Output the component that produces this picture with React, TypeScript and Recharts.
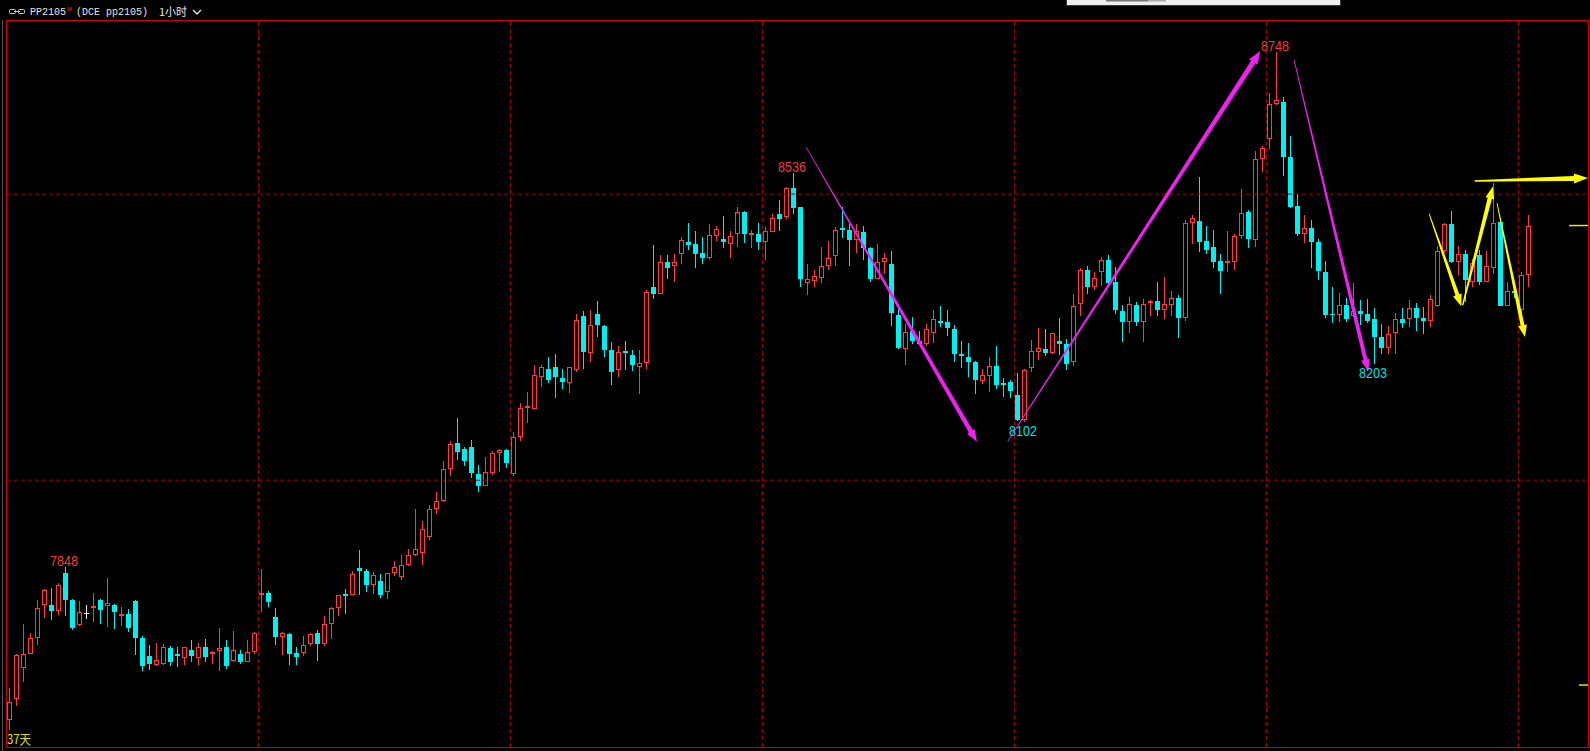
import React from 'react';
import {
  ComposedChart,
  Bar,
  XAxis,
  YAxis,
  ReferenceLine,
  ReferenceDot,
} from 'recharts';

// hourly candles, PP2105
const opens = [
  7581, 7618, 7672, 7697, 7724, 7781, 7781, 7771, 7838, 7791,
  7747, 7768, 7777, 7791, 7780, 7782, 7762, 7767, 7789, 7725,
  7692, 7677, 7679, 7706, 7697, 7690, 7704, 7690, 7708, 7697,
  7702, 7708, 7684, 7697, 7683, 7700, 7800, 7803, 7761, 7726,
  7731, 7698, 7698, 7713, 7733, 7713, 7749, 7777, 7801, 7800,
  7846, 7841, 7816, 7823, 7805, 7837, 7830, 7851, 7870, 7872,
  7900, 7950, 7963, 8020, 8065, 8054, 8058, 8011, 7990, 8013,
  8047, 8053, 8011, 8075, 8127, 8125, 8180, 8195, 8198, 8179,
  8169, 8193, 8287, 8222, 8290, 8270, 8228, 8193, 8225, 8218,
  8198, 8204, 8337, 8326, 8382, 8374, 8396, 8416, 8412, 8397,
  8389, 8426, 8422, 8413, 8430, 8468, 8429, 8431, 8417, 8434,
  8466, 8460, 8511, 8477, 8344, 8348, 8354, 8374, 8392, 8440,
  8438, 8420, 8433, 8405, 8352, 8381, 8377, 8289, 8229, 8261,
  8243, 8238, 8257, 8279, 8276, 8264, 8221, 8216, 8207, 8174,
  8182, 8200, 8169, 8171, 8148, 8106, 8196, 8224, 8230, 8222,
  8244, 8238, 8206, 8308, 8367, 8337, 8363, 8384, 8346, 8296,
  8276, 8306, 8276, 8309, 8313, 8298, 8306, 8318, 8283, 8450,
  8453, 8418, 8407, 8383, 8379, 8381, 8427, 8469, 8419, 8561,
  8596, 8657, 8661, 8565, 8480, 8431, 8441, 8417, 8364, 8290,
  8289, 8307, 8287, 8296, 8290, 8281, 8251, 8231, 8257, 8282,
  8282, 8301, 8283, 8278, 8305, 8401, 8448, 8382, 8396, 8347,
  8393, 8347, 8371, 8451, 8305, 8330, 8298, 8358,
];

const highs = [
  7636, 7697, 7748, 7733, 7791, 7810, 7812, 7821, 7848, 7793,
  7789, 7781, 7803, 7792, 7829, 7784, 7779, 7775, 7790, 7727,
  7712, 7716, 7713, 7710, 7708, 7709, 7720, 7716, 7722, 7701,
  7742, 7720, 7736, 7704, 7720, 7734, 7845, 7806, 7777, 7734,
  7733, 7708, 7727, 7733, 7739, 7763, 7778, 7800, 7810, 7841,
  7878, 7844, 7839, 7836, 7838, 7858, 7869, 7879, 7949, 7928,
  7957, 7980, 8034, 8068, 8108, 8058, 8070, 8026, 8040, 8051,
  8054, 8054, 8084, 8134, 8154, 8201, 8202, 8215, 8220, 8195,
  8198, 8290, 8296, 8297, 8313, 8271, 8242, 8235, 8244, 8228,
  8228, 8332, 8411, 8393, 8393, 8395, 8425, 8449, 8435, 8425,
  8447, 8444, 8461, 8436, 8478, 8471, 8438, 8449, 8443, 8466,
  8489, 8512, 8536, 8478, 8377, 8367, 8407, 8418, 8443, 8478,
  8448, 8447, 8445, 8408, 8412, 8397, 8401, 8308, 8273, 8285,
  8261, 8273, 8297, 8304, 8297, 8272, 8243, 8239, 8208, 8195,
  8216, 8235, 8179, 8175, 8188, 8195, 8245, 8266, 8264, 8258,
  8283, 8246, 8325, 8370, 8374, 8363, 8390, 8393, 8372, 8306,
  8320, 8311, 8317, 8315, 8346, 8355, 8331, 8324, 8455, 8463,
  8530, 8445, 8437, 8396, 8436, 8431, 8508, 8473, 8575, 8584,
  8676, 8748, 8669, 8601, 8500, 8463, 8455, 8422, 8383, 8337,
  8327, 8319, 8344, 8315, 8317, 8301, 8273, 8270, 8293, 8301,
  8315, 8309, 8302, 8323, 8409, 8450, 8471, 8410, 8402, 8386,
  8403, 8400, 8520, 8458, 8347, 8337, 8363, 8463,
];

const lows = [
  7564, 7605, 7648, 7696, 7712, 7760, 7755, 7765, 7762, 7739,
  7746, 7758, 7752, 7748, 7744, 7740, 7745, 7734, 7694, 7667,
  7668, 7676, 7677, 7675, 7674, 7677, 7683, 7677, 7682, 7679,
  7667, 7670, 7683, 7679, 7682, 7696, 7770, 7779, 7712, 7695,
  7677, 7677, 7693, 7711, 7684, 7710, 7723, 7762, 7767, 7799,
  7800, 7805, 7801, 7794, 7793, 7832, 7825, 7850, 7868, 7851,
  7896, 7941, 7962, 8007, 8036, 8024, 8003, 7979, 7989, 8009,
  8014, 8021, 8007, 8069, 8100, 8124, 8163, 8169, 8144, 8160,
  8153, 8189, 8194, 8206, 8250, 8215, 8167, 8180, 8193, 8191,
  8151, 8194, 8316, 8325, 8352, 8347, 8378, 8402, 8371, 8378,
  8385, 8418, 8406, 8389, 8408, 8415, 8406, 8402, 8385, 8433,
  8435, 8456, 8465, 8338, 8323, 8337, 8344, 8368, 8374, 8424,
  8375, 8397, 8385, 8347, 8351, 8360, 8269, 8229, 8201, 8238,
  8237, 8234, 8239, 8267, 8252, 8206, 8196, 8180, 8151, 8168,
  8154, 8160, 8146, 8144, 8104, 8102, 8189, 8210, 8217, 8221,
  8218, 8192, 8200, 8287, 8325, 8333, 8339, 8342, 8290, 8241,
  8258, 8269, 8241, 8287, 8287, 8281, 8287, 8249, 8278, 8412,
  8399, 8396, 8371, 8326, 8363, 8368, 8422, 8406, 8408, 8539,
  8578, 8655, 8532, 8475, 8427, 8415, 8370, 8349, 8283, 8274,
  8276, 8276, 8285, 8271, 8275, 8203, 8221, 8220, 8220, 8266,
  8268, 8260, 8256, 8267, 8302, 8397, 8379, 8359, 8311, 8337,
  8341, 8346, 8360, 8304, 8304, 8319, 8285, 8338,
];

const closes = [
  7613, 7695, 7697, 7724, 7777, 7808, 7771, 7817, 7790, 7741,
  7769, 7768, 7780, 7773, 7786, 7769, 7766, 7741, 7725, 7675,
  7678, 7686, 7708, 7683, 7693, 7708, 7693, 7708, 7691, 7700,
  7707, 7675, 7704, 7682, 7700, 7733, 7803, 7787, 7726, 7733,
  7697, 7691, 7712, 7731, 7713, 7749, 7777, 7799, 7798, 7836,
  7842, 7816, 7834, 7800, 7837, 7849, 7851, 7870, 7879, 7915,
  7950, 7963, 8020, 8063, 8050, 8033, 8012, 7990, 8014, 8047,
  8053, 8030, 8075, 8127, 8129, 8183, 8197, 8175, 8180, 8172,
  8197, 8280, 8224, 8271, 8271, 8228, 8189, 8224, 8222, 8201,
  8205, 8329, 8326, 8381, 8371, 8381, 8419, 8411, 8396, 8389,
  8428, 8439, 8417, 8426, 8468, 8430, 8432, 8417, 8436, 8458,
  8456, 8511, 8476, 8352, 8351, 8356, 8375, 8389, 8437, 8437,
  8420, 8436, 8405, 8352, 8381, 8389, 8292, 8231, 8259, 8243,
  8238, 8264, 8282, 8275, 8266, 8220, 8217, 8206, 8175, 8184,
  8200, 8166, 8166, 8156, 8106, 8193, 8226, 8231, 8222, 8257,
  8238, 8203, 8304, 8367, 8337, 8353, 8384, 8345, 8297, 8276,
  8308, 8276, 8308, 8313, 8297, 8308, 8318, 8283, 8450, 8459,
  8416, 8403, 8382, 8366, 8383, 8427, 8467, 8422, 8561, 8580,
  8658, 8665, 8564, 8478, 8431, 8441, 8416, 8365, 8289, 8288,
  8306, 8281, 8296, 8290, 8279, 8250, 8231, 8256, 8282, 8274,
  8301, 8283, 8278, 8316, 8401, 8447, 8382, 8396, 8349, 8379,
  8347, 8375, 8449, 8305, 8330, 8327, 8358, 8445,
];

// session breaks (candle index where a new block starts)
const dayStarts = [36, 72, 108, 144, 180, 216];
// dashed price levels
const priceLevels = [8000, 8500];

// swing labels
const swingLabels = [
  { i: 8, price: 7848, side: 'high' },
  { i: 112, price: 8536, side: 'high' },
  { i: 181, price: 8748, side: 'high' },
  { i: 145, price: 8102, side: 'low' },
  { i: 195, price: 8203, side: 'low' },
];

const MAGENTA = '#F020F0';
const YELLOW = '#FFFF00';

// hand-drawn trend arrows: [index, price] -> [index, price]
const arrows = [
  { from: [113.8, 8582], to: [138.2, 8067], color: MAGENTA, w0: 0.8, w1: 4.5, head: 9, len: 12 },
  { from: [142.6, 8068], to: [178.7, 8750], color: MAGENTA, w0: 0.8, w1: 5, head: 10, len: 13 },
  { from: [183.5, 8735], to: [194.1, 8190], color: MAGENTA, w0: 0.8, w1: 4, head: 9, len: 12 },
  { from: [202.8, 8466], to: [207.4, 8304], color: YELLOW, w0: 0.8, w1: 4, head: 9, len: 12 },
  { from: [207.6, 8306], to: [211.9, 8513], color: YELLOW, w0: 1.5, w1: 4.5, head: 9, len: 12 },
  { from: [212.5, 8484], to: [216.5, 8250], color: YELLOW, w0: 0.8, w1: 4, head: 9, len: 12 },
  { from: [209.3, 8523], to: [225.5, 8528], color: YELLOW, w0: 1.5, w1: 5, head: 10, len: 14 },
];

// short marks on the right edge (last price and another level)
const sideMarks = [
  { price: closes[closes.length - 1], from: 222.8 },
  { price: 7642, from: 224.2 },
];

const candles = opens.map((open, i) => ({
  i,
  open,
  high: highs[i],
  low: lows[i],
  close: closes[i],
}));

const W = 1590;
const H = 751;
const X_MIN = -2.5 / 7;
const X_MAX = 225.5;
const Y_MIN = 7533.7;
const Y_MAX = 8804.2;

const UP = '#FF3C3C';
const DOWN = '#00F0F0';
const FLAT = '#E8E8E8';
const BORDER = '#D00000';
const GRID = '#A00000';

const Candle = (props: any) => {
  const { x, y, width, height, payload } = props;
  if (x == null || !payload) return null;
  const { open, close, high, low } = payload;
  const span = high - low;
  const k = span > 0 ? height / span : 0;
  const yOf = (v: number) => y + (high - v) * k;
  const cx = Math.round(x + width / 2 - 0.5) + 0.5;
  const left = cx - 2.5;
  const yH = Math.round(yOf(high));
  const yL = Math.round(yOf(low));
  const top = Math.round(yOf(Math.max(open, close)));
  const bot = Math.round(yOf(Math.min(open, close)));

  if (close === open) {
    const ym = Math.round(yOf(open)) + 0.5;
    return (
      <g>
        <line x1={cx} x2={cx} y1={yH} y2={yL} stroke={FLAT} />
        <line x1={left} x2={left + 5} y1={ym} y2={ym} stroke={FLAT} />
      </g>
    );
  }
  if (close > open) {
    if (bot - top < 2) {
      return (
        <g>
          <line x1={cx} x2={cx} y1={yH} y2={yL} stroke={UP} />
          <rect x={left} y={top} width={5} height={Math.max(bot - top, 1)} fill={UP} />
        </g>
      );
    }
    return (
      <g>
        <line x1={cx} x2={cx} y1={yH} y2={top} stroke={UP} />
        <line x1={cx} x2={cx} y1={bot} y2={yL} stroke={UP} />
        <rect x={left + 0.5} y={top + 0.5} width={4} height={bot - top - 1} fill="none" stroke={UP} />
      </g>
    );
  }
  return (
    <g>
      <line x1={cx} x2={cx} y1={yH} y2={yL} stroke={DOWN} />
      <rect x={left} y={top} width={5} height={Math.max(bot - top, 1)} fill={DOWN} />
    </g>
  );
};

const taperArrow = (a: any) => (p: any) => {
  const { x1, y1, x2, y2 } = p;
  if ([x1, y1, x2, y2].some((v) => v == null || Number.isNaN(v))) return null;
  const dx = x2 - x1;
  const dy = y2 - y1;
  const len = Math.hypot(dx, dy) || 1;
  const ux = dx / len;
  const uy = dy / len;
  const nx = -uy;
  const ny = ux;
  const bx = x2 - ux * a.len;
  const by = y2 - uy * a.len;
  const pt = (px: number, py: number) => `${px.toFixed(1)},${py.toFixed(1)}`;
  const pts = [
    pt(x1 + (nx * a.w0) / 2, y1 + (ny * a.w0) / 2),
    pt(bx + (nx * a.w1) / 2, by + (ny * a.w1) / 2),
    pt(bx + (nx * a.head) / 2, by + (ny * a.head) / 2),
    pt(x2, y2),
    pt(bx - (nx * a.head) / 2, by - (ny * a.head) / 2),
    pt(bx - (nx * a.w1) / 2, by - (ny * a.w1) / 2),
    pt(x1 - (nx * a.w0) / 2, y1 - (ny * a.w0) / 2),
  ];
  return <polygon points={pts.join(' ')} fill={a.color} />;
};

const swingText = (s: any) => (p: any) => {
  const { cx, cy } = p;
  if (cx == null || cy == null) return null;
  const isHigh = s.side === 'high';
  return (
    <text
      x={cx - 15.5}
      y={isHigh ? cy - 1.5 : cy + 14}
      fontFamily="'Liberation Sans', Arial, sans-serif"
      fontSize={15}
      fill={isHigh ? '#F03C3C' : '#00E0E0'}
      textLength={28}
      lengthAdjust="spacingAndGlyphs"
    >
      {s.price}
    </text>
  );
};

const App: React.FC = () => {
  return (
    <div
      style={{
        position: 'fixed',
        left: 0,
        top: 0,
        width: W,
        height: H,
        background: '#000',
        overflow: 'hidden',
      }}
    >
      <ComposedChart
        width={W}
        height={H}
        data={candles}
        margin={{ top: 20, right: 2, bottom: 4, left: 7 }}
      >
        <XAxis type="number" dataKey="i" domain={[X_MIN, X_MAX]} allowDataOverflow hide />
        <YAxis type="number" domain={[Y_MIN, Y_MAX]} allowDataOverflow hide />

        {priceLevels.map((v) => (
          <ReferenceLine key={`h-${v}`} y={v} stroke={GRID} strokeDasharray="4 3" />
        ))}
        {dayStarts.map((b) => (
          <ReferenceLine key={`v-${b}`} x={b - 3 / 7} stroke={GRID} strokeDasharray="4 3" />
        ))}

        <Bar
          dataKey={(d: any) => [d.low, d.high]}
          barSize={5}
          shape={(p: any) => <Candle {...p} />}
          isAnimationActive={false}
        />

        {sideMarks.map((m, k) => (
          <ReferenceLine
            key={`m-${k}`}
            segment={[{ x: m.from, y: m.price }, { x: X_MAX, y: m.price }]}
            stroke="#E8E800"
            strokeWidth={1.5}
            ifOverflow="visible"
          />
        ))}

        {arrows.map((a, k) => (
          <ReferenceLine
            key={`a-${k}`}
            segment={[{ x: a.from[0], y: a.from[1] }, { x: a.to[0], y: a.to[1] }]}
            ifOverflow="visible"
            shape={taperArrow(a)}
          />
        ))}

        {swingLabels.map((s) => (
          <ReferenceDot
            key={`s-${s.i}`}
            x={s.i}
            y={s.price}
            r={0}
            ifOverflow="visible"
            shape={swingText(s)}
          />
        ))}
      </ComposedChart>

      <svg
        width={W}
        height={H}
        style={{ position: 'absolute', left: 0, top: 0, pointerEvents: 'none' }}
      >
        {/* frame */}
        <line x1={2.5} y1={20} x2={2.5} y2={H} stroke="#555" />
        <line x1={6.5} y1={20} x2={6.5} y2={748} stroke={BORDER} />
        <line x1={6} y1={20.5} x2={1589} y2={20.5} stroke={BORDER} />
        <line x1={1588.5} y1={20} x2={1588.5} y2={748} stroke={BORDER} />
        <line x1={6} y1={747.5} x2={1589} y2={747.5} stroke={BORDER} />

        {/* top toolbar stub */}
        <rect x={1066.5} y={-1} width={274} height={6.5} fill="#EEEEEE" stroke="#3A3A3A" />
        <rect x={1106} y={0} width={42} height={1.5} fill="#777" />
        <rect x={1148} y={0} width={18} height={1.5} fill="#AAA" />

        {/* header */}
        <rect x={9.5} y={9.5} width={6} height={4} rx={1} fill="none" stroke="#C8C8C8" />
        <rect x={18.5} y={9.5} width={6} height={4} rx={1} fill="none" stroke="#C8C8C8" />
        <line x1={14} y1={11.5} x2={20} y2={11.5} stroke="#C8C8C8" />
        <text x={30} y={15} fontFamily="'Liberation Mono', monospace" fontSize={10} fill="#E6E6E6">
          PP2105
        </text>
        <text
          x={67}
          y={11}
          fontFamily="'Liberation Sans', sans-serif"
          fontSize={6}
          fontWeight="bold"
          fill="#D01010"
        >
          M
        </text>
        <text x={76} y={15} fontFamily="'Liberation Mono', monospace" fontSize={10} fill="#E6E6E6">
          (DCE pp2105)
        </text>
        <text
          x={159}
          y={15.5}
          fontFamily="'Noto Sans CJK SC', sans-serif"
          fontSize={11}
          fill="#E6E6E6"
        >
          1小时
        </text>
        <polyline points="193,10 197,14 201,10" fill="none" stroke="#E6E6E6" strokeWidth={1.3} />

        {/* bottom-left period tag */}
        <text
          x={7}
          y={744}
          fontFamily="'Noto Sans CJK SC', sans-serif"
          fontSize={13}
          fill="#E0E000"
          textLength={24}
          lengthAdjust="spacingAndGlyphs"
        >
          37天
        </text>
      </svg>
    </div>
  );
};

export default App;
